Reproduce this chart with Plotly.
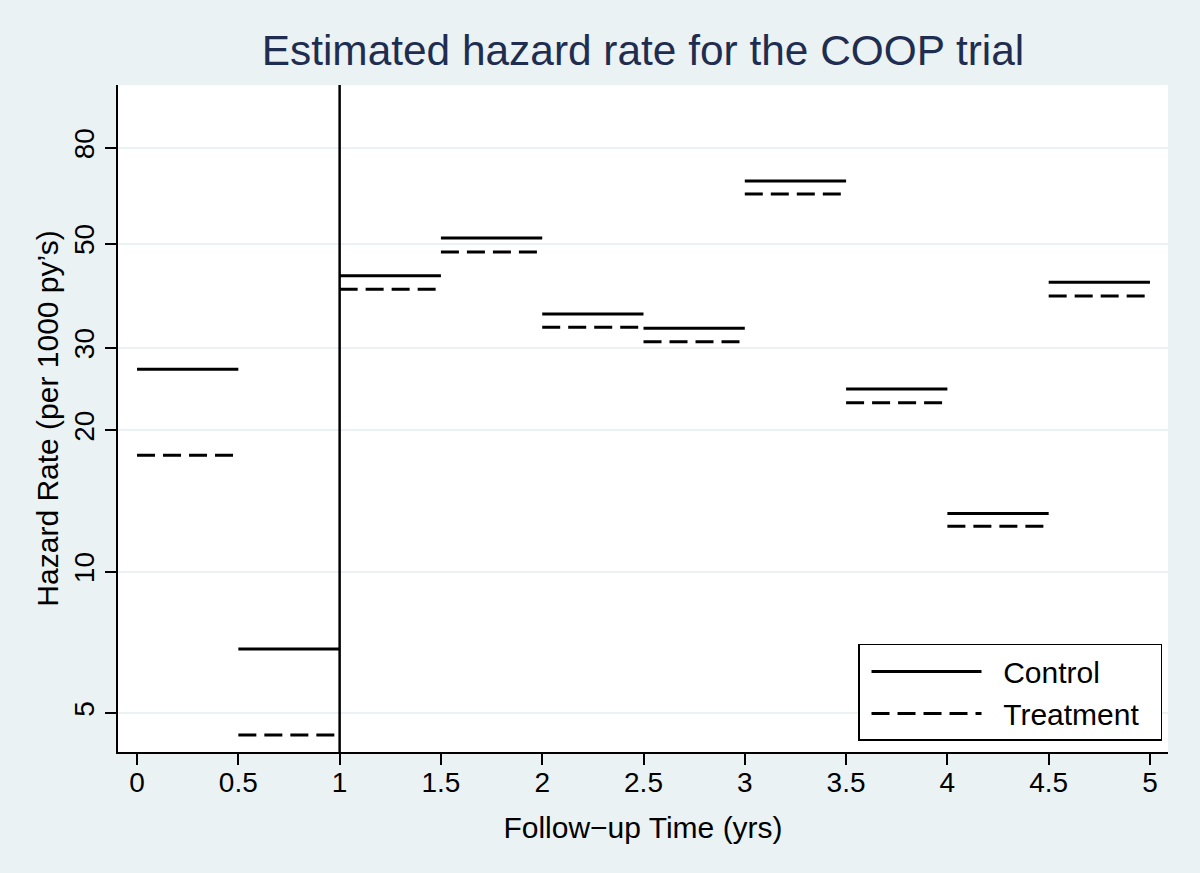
import plotly.graph_objects as go

# Interval boundaries (years) and estimated hazard rates (per 1000 person-years)
interval_start = [0, 0.5, 1, 1.5, 2, 2.5, 3, 3.5, 4, 4.5]
interval_end = [0.5, 1, 1.5, 2, 2.5, 3, 3.5, 4, 4.5, 5]
control_rate = [27.0, 6.85, 42.7, 51.4, 35.4, 33.0, 68.0, 24.5, 13.3, 41.4]
treatment_rate = [17.7, 4.49, 40.0, 48.0, 33.2, 30.9, 63.8, 22.9, 12.5, 38.7]

x_ticks = [0, 0.5, 1, 1.5, 2, 2.5, 3, 3.5, 4, 4.5, 5]
x_tick_labels = ["0", "0.5", "1", "1.5", "2", "2.5", "3", "3.5", "4", "4.5", "5"]
y_ticks = [5, 10, 20, 30, 50, 80]
y_tick_labels = ["5", "10", "20", "30", "50", "80"]
split_time = 1

BG = "#EAF2F3"
FONT = "Liberation Sans, Arial, Helvetica, sans-serif"
NB = "\u00a0"


def steps(starts, ends, vals):
    xs, ys = [], []
    for a, b, v in zip(starts, ends, vals):
        xs += [a, b, None]
        ys += [v, v, None]
    return xs, ys


cx, cy = steps(interval_start, interval_end, control_rate)
tx, ty = steps(interval_start, interval_end, treatment_rate)

fig = go.Figure()
fig.add_trace(go.Scatter(x=cx, y=cy, mode="lines", name=NB * 2 + "Control",
                         line=dict(color="black", width=3)))
fig.add_trace(go.Scatter(x=tx, y=ty, mode="lines",
                         name=NB * 2 + "Treatment" + NB * 2,
                         line=dict(color="black", width=3, dash="18px,8px")))

fig.add_vline(x=split_time, line=dict(color="black", width=2.5))

fig.update_layout(
    width=1200, height=873,
    paper_bgcolor=BG, plot_bgcolor="white",
    margin=dict(l=118, r=32, t=85, b=121),
    font=dict(family=FONT, color="black", size=28),
    title=dict(text="Estimated hazard rate for the COOP trial",
               font=dict(size=42.4, color="#1F2D50", family=FONT),
               x=0.5, xref="paper", xanchor="center",
               y=1 - 50 / 873, yref="container", yanchor="middle"),
    showlegend=True,
    legend=dict(x=0.9943, y=0.0165, xanchor="right", yanchor="bottom",
                bgcolor="white", bordercolor="black", borderwidth=1.5,
                font=dict(size=30, family=FONT), itemwidth=110,
                indentation=7, tracegroupgap=0),
    xaxis=dict(range=[-0.094, 5.089], tickvals=x_ticks, ticktext=x_tick_labels,
               showgrid=False, zeroline=False, showline=True, linecolor="black",
               linewidth=2, ticks="outside", ticklen=11, tickwidth=2,
               tickcolor="black", tickfont=dict(size=28),
               ticklabelstandoff=-7,
               title=dict(text="Follow\u2212up Time (yrs)", font=dict(size=30),
                          standoff=20)),
    yaxis=dict(type="log", range=[0.616, 2.037], tickvals=y_ticks,
               ticktext=y_tick_labels, tickangle=-90,
               showgrid=True, gridcolor=BG, gridwidth=2, zeroline=False,
               showline=True, linecolor="black", linewidth=2, ticks="outside",
               ticklen=11, tickwidth=2, tickcolor="black",
               tickfont=dict(size=28),
               title=dict(text="Hazard Rate (per 1000 py\u2019s)",
                          font=dict(size=30), standoff=1)),
)

fig.write_html(
    "out.html",
    config={"displayModeBar": False},
    post_script="document.body.style.margin='0';"
                "document.body.style.overflow='hidden';"
                "document.body.style.background='" + BG + "';",
)
